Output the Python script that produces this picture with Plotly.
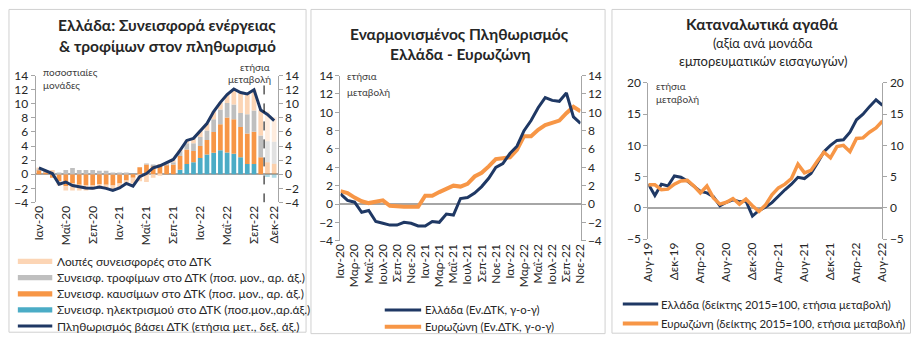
import plotly.graph_objects as go

W, H = 919, 344
def px(x): return x / W
def py(y): return 1 - y / H

# ---------------- Panel 1 data (Jan-20 .. Dec-22) ----------------
months_p1 = ["Ιαν-20","Φεβ-20","Μαρ-20","Απρ-20","Μαΐ-20","Ιουν-20","Ιουλ-20","Αυγ-20","Σεπ-20","Οκτ-20","Νοε-20","Δεκ-20",
             "Ιαν-21","Φεβ-21","Μαρ-21","Απρ-21","Μαΐ-21","Ιουν-21","Ιουλ-21","Αυγ-21","Σεπ-21","Οκτ-21","Νοε-21","Δεκ-21",
             "Ιαν-22","Φεβ-22","Μαρ-22","Απρ-22","Μαΐ-22","Ιουν-22","Ιουλ-22","Αυγ-22","Σεπ-22","Οκτ-22","Νοε-22","Δεκ-22"]
p1_tick_labels = ["Ιαν-20","Μαΐ-20","Σεπ-20","Ιαν-21","Μαΐ-21","Σεπ-21","Ιαν-22","Μαΐ-22","Σεπ-22","Δεκ-22"]
electricity = [0,0,0,0,0,0,0,0,0,0,0,0,
               0,0,0,0,0,0,0,0,0,0.65,1.45,1.7,
               2.3,2.8,3.05,3.4,3.1,2.9,2.4,1.45,1.45,0.0,-0.4,-0.5]
fuels = [0.6,0.3,-0.5,-1.0,-1.7,-1.3,-1.5,-1.6,-1.6,-1.4,-1.5,-1.6,
         -1.3,-0.9,-0.5,1.0,1.4,1.2,1.4,1.3,1.4,1.95,2.05,1.6,
         1.7,2.05,2.95,3.7,4.95,4.9,4.3,4.35,4.6,2.4,1.7,1.5]
food = [0.1,0.1,0.1,0.2,0.6,0.9,0.6,0.6,0.6,0.5,0.5,0.2,
        0.2,0.1,0.0,0.0,0.1,0.1,0.0,0.1,0.3,0.65,0.9,1.1,
        1.3,1.35,1.8,2.1,2.05,2.1,2.0,2.7,3.0,3.1,3.0,3.1]
other = [0.2,0.05,0.5,-0.6,-0.6,-1.0,-0.8,-0.7,-0.6,-0.7,-0.6,-0.6,
         -0.5,-0.4,-0.8,-1.0,-1.1,-0.5,-0.2,0.2,0.3,0.15,0.4,0.7,
         0.9,1.0,1.1,1.0,1.2,2.2,2.9,2.9,2.95,3.6,4.2,3.5]
cpi = [0.9,0.45,0.1,-1.4,-1.1,-1.6,-1.8,-1.95,-2.0,-1.8,-2.0,-2.3,
       -1.95,-1.3,-1.7,-0.35,0.1,0.9,1.2,1.7,2.1,3.4,4.8,5.1,
       6.2,7.2,8.9,10.2,11.3,12.1,11.6,11.4,12.0,9.1,8.5,7.6]
p1_projection_start = 34   # months after the dashed divider are shown lighter

# ---------------- Panel 2 data (Jan-20 .. Nov-22) ----------------
p2_tick_labels = ["Ιαν-20","Μαρ-20","Μαΐ-20","Ιουλ-20","Σεπ-20","Νοε-20","Ιαν-21","Μαρ-21","Μαΐ-21",
                  "Ιουλ-21","Σεπ-21","Νοε-21","Ιαν-22","Μαρ-22","Μαΐ-22","Ιουλ-22","Σεπ-22","Νοε-22"]
hicp_gr = [1.1,0.4,0.2,-0.9,-0.7,-1.9,-2.1,-2.3,-2.3,-2.0,-2.1,-2.4,
           -2.4,-1.9,-2.0,-1.1,-1.2,0.6,0.7,1.2,1.9,2.8,4.0,4.4,
           5.5,6.3,8.0,9.1,10.5,11.6,11.3,11.2,12.1,9.5,8.8]
hicp_ez = [1.4,1.2,0.7,0.3,0.1,0.3,0.4,-0.2,-0.3,-0.3,-0.3,-0.3,
           0.9,0.9,1.3,1.6,2.0,1.9,2.2,3.0,3.4,4.1,4.9,5.0,
           5.1,5.9,7.4,7.4,8.1,8.6,8.9,9.1,9.9,10.6,10.1]

# ---------------- Panel 3 data (Aug-19 .. Aug-22) ----------------
p3_tick_labels = ["Αυγ-19","Δεκ-19","Απρ-20","Αυγ-20","Δεκ-20","Απρ-21","Αυγ-21","Δεκ-21","Απρ-22","Αυγ-22"]
cons_gr = [3.8,2.0,3.8,3.5,5.1,4.9,4.3,3.5,2.65,2.4,1.8,0.35,
           0.9,1.3,1.0,1.1,-1.3,-0.4,0.1,0.85,1.9,2.9,3.8,4.9,
           4.7,5.5,7.2,9.0,10.0,10.8,10.9,12.1,14.1,15.0,16.2,17.3,16.4]
cons_ez = [3.7,3.7,2.9,3.0,3.8,4.3,4.4,3.5,2.4,3.5,1.6,0.6,
           0.9,1.5,0.6,1.4,0.35,-0.55,0.45,2.1,3.2,3.8,4.7,7.0,
           5.6,6.0,7.5,8.9,8.0,9.8,10.0,9.0,11.1,11.2,12.1,12.8,13.9]

NAVY = "#1f3864"
ORANGE = "#f79646"
GREY = "#bfbfbf"
PEACH = "#fcd5b5"
BLUE = "#4bacc6"
AXC = "#a6a6a6"
TXT = "#262626"
FONT = "Lato"

fig = go.Figure()

x1 = list(range(len(months_p1)))
op = [1.0 if i < p1_projection_start else 0.45 for i in x1]
for name, vals, col in [("Συνεισφ. ηλεκτρισμού στο ΔΤΚ (ποσ.μον.,αρ.άξ.)", electricity, BLUE),
                        ("Συνεισφ. καυσίμων στο ΔΤΚ (ποσ. μον., αρ. άξ.)", fuels, ORANGE),
                        ("Συνεισφ. τροφίμων στο ΔΤΚ (ποσ. μον., αρ. άξ.)", food, GREY),
                        ("Λοιπές συνεισφορές στο ΔΤΚ", other, PEACH)]:
    fig.add_trace(go.Bar(x=x1, y=vals, name=name, marker=dict(color=col, opacity=op, line_width=0),
                         xaxis="x", yaxis="y", showlegend=False))
fig.add_trace(go.Scatter(x=x1, y=cpi, mode="lines", line=dict(color=NAVY, width=3),
                         name="Πληθωρισμός βάσει ΔΤΚ (ετήσια μετ., δεξ. άξ.)", xaxis="x", yaxis="y2", showlegend=False))

x2 = list(range(len(hicp_gr)))
fig.add_trace(go.Scatter(x=x2, y=hicp_ez, mode="lines", line=dict(color=ORANGE, width=4),
                         name="Ευρωζώνη (Εν.ΔΤΚ, γ-ο-γ)", xaxis="x2", yaxis="y3", showlegend=False))
fig.add_trace(go.Scatter(x=x2, y=hicp_gr, mode="lines", line=dict(color=NAVY, width=3),
                         name="Ελλάδα (Εν.ΔΤΚ, γ-ο-γ)", xaxis="x2", yaxis="y4", showlegend=False))

x3 = list(range(len(cons_gr)))
fig.add_trace(go.Scatter(x=x3, y=cons_gr, mode="lines", line=dict(color=NAVY, width=3),
                         name="Ελλάδα (δείκτης 2015=100, ετήσια μεταβολή)", xaxis="x3", yaxis="y5", showlegend=False))
fig.add_trace(go.Scatter(x=x3, y=cons_ez, mode="lines", line=dict(color=ORANGE, width=3.5),
                         name="Ευρωζώνη (δείκτης 2015=100, ετήσια μεταβολή)", xaxis="x3", yaxis="y6", showlegend=False))

tickfont = dict(family=FONT, size=12, color=TXT)

def yax(dom, rng, dtick, side="left", overlay=None, anchor=None, zero=True):
    d = dict(domain=dom, range=rng, dtick=dtick, tick0=rng[0], showgrid=False, showline=True, linecolor=AXC,
             linewidth=1, ticks="outside", ticklen=4, tickcolor=AXC, tickfont=tickfont,
             zeroline=zero, zerolinecolor=AXC, zerolinewidth=1.5, side=side, fixedrange=True)
    if overlay:
        d["overlaying"] = overlay
    if anchor:
        d["anchor"] = anchor
    return d

def xax(dom, rng, tv, tt, anchor):
    return dict(domain=dom, range=rng, tickvals=tv, ticktext=tt, tickangle=-90, showgrid=False,
                showline=False, zeroline=False, ticks="", tickfont=tickfont, anchor=anchor, fixedrange=True)

p1_tv = [months_p1.index(t) for t in p1_tick_labels]
p2_tv = list(range(0, len(hicp_gr), 2))
p3_tv = list(range(0, len(cons_gr), 4))

fig.update_layout(
    width=W, height=H, margin=dict(l=0, r=0, t=0, b=0),
    paper_bgcolor="white", plot_bgcolor="rgba(0,0,0,0)",
    barmode="relative", bargap=0.3, showlegend=False,
    font=dict(family=FONT, color=TXT),
    xaxis=xax([px(28), px(274)], [-0.5, 35.5], p1_tv, p1_tick_labels, "y"),
    yaxis=yax([py(203.3), py(70.7)], [-4, 14], 2, anchor="x"),
    yaxis2=yax([py(203.3), py(70.7)], [-4, 14], 2, side="right", overlay="y", anchor="x", zero=False),
    xaxis2=xax([px(338), px(582)], [0, 34], p2_tv, p2_tick_labels, "y3"),
    yaxis3=yax([py(243.3), py(70.7)], [-4, 14], 2, anchor="x2"),
    yaxis4=yax([py(243.3), py(70.7)], [-4, 14], 2, side="right", overlay="y3", anchor="x2", zero=False),
    xaxis3=xax([px(651), px(889)], [0, 36], p3_tv, p3_tick_labels, "y5"),
    yaxis5=yax([py(241.7), py(78.3)], [-5, 20], 5, anchor="x3"),
    yaxis6=yax([py(241.7), py(78.3)], [-5, 20], 5, side="right", overlay="y5", anchor="x3", zero=False),
)

shapes = []
# panel frames
for x0, x1_, y1_ in [(1, 303, 339), (308, 607, 340.5), (614, 917.5, 340)]:
    shapes.append(dict(type="rect", xref="paper", yref="paper", x0=px(x0), x1=px(x1_), y0=py(y1_), y1=py(1.5),
                       line=dict(color="#d0d0d0", width=1), fillcolor="rgba(0,0,0,0)", layer="below"))
# projection divider in panel 1
shapes.append(dict(type="line", xref="x", yref="y", x0=p1_projection_start - 0.5, x1=p1_projection_start - 0.5,
                   y0=-4, y1=12.7, line=dict(color="black", width=1, dash="dash")))

annotations = []
def txt(x, y, s, size, bold=False, xanchor="center", color=TXT):
    annotations.append(dict(xref="paper", yref="paper", x=px(x), y=py(y), text=("<b>%s</b>" % s) if bold else s,
                            showarrow=False, xanchor=xanchor, yanchor="middle", borderpad=0,
                            font=dict(family=FONT, size=size, color=color)))

# titles
txt(162, 18, "Ελλάδα: Συνεισφορά ενέργειας", 15.5, True)
txt(162, 40, "&amp; τροφίμων στον πληθωρισμό", 15.5, True)
txt(459, 27, "Εναρμονισμένος Πληθωρισμός", 15.5, True)
txt(459, 48, "Ελλάδα - Ευρωζώνη", 15.5, True)
txt(767, 17, "Καταναλωτικά αγαθά", 15.5, True)
txt(768, 37, "(αξία ανά μονάδα", 13)
txt(768, 55, "εμπορευματικών εισαγωγών)", 13)

# axis notes
txt(35, 66.5, "ποσοστιαίες", 10, xanchor="left", color="#404040")
txt(35, 80, "μονάδες", 10, xanchor="left", color="#404040")
txt(267, 61.5, "ετήσια", 10, xanchor="right", color="#404040")
txt(268, 74.5, "μεταβολή", 10, xanchor="right", color="#404040")
txt(344, 71.5, "ετήσια", 10, xanchor="left", color="#404040")
txt(344, 88, "μεταβολή", 10, xanchor="left", color="#404040")
txt(658, 81.5, "ετήσια", 10, xanchor="left", color="#404040")
txt(658, 95, "μεταβολή", 10, xanchor="left", color="#404040")

# legends (manual, to match the compact row spacing)
def leg_rect(x0, x1_, yc, col, h=5.5):
    shapes.append(dict(type="rect", xref="paper", yref="paper", x0=px(x0), x1=px(x1_),
                       y0=py(yc + h / 2), y1=py(yc - h / 2), line=dict(width=0), fillcolor=col))
def leg_line(x0, x1_, yc, col, w):
    shapes.append(dict(type="line", xref="paper", yref="paper", x0=px(x0), x1=px(x1_),
                       y0=py(yc), y1=py(yc), line=dict(color=col, width=w)))

leg1 = [("Λοιπές συνεισφορές στο ΔΤΚ", PEACH, "rect"),
        ("Συνεισφ. τροφίμων στο ΔΤΚ (ποσ. μον., αρ. άξ.)", GREY, "rect"),
        ("Συνεισφ. καυσίμων στο ΔΤΚ (ποσ. μον., αρ. άξ.)", ORANGE, "rect"),
        ("Συνεισφ. ηλεκτρισμού στο ΔΤΚ (ποσ.μον.,αρ.άξ.)", BLUE, "rect"),
        ("Πληθωρισμός βάσει ΔΤΚ (ετήσια μετ., δεξ. άξ.)", NAVY, "line")]
for k, (s, col, kind) in enumerate(leg1):
    yc = 265 + k * 16.9
    if kind == "rect":
        leg_rect(10, 45, yc, col)
    else:
        leg_line(10, 45, yc, col, 3)
    txt(49, yc, s, 11.9, xanchor="left")

for k, (s, col, w) in enumerate([("Ελλάδα (Εν.ΔΤΚ, γ-ο-γ)", NAVY, 3), ("Ευρωζώνη (Εν.ΔΤΚ, γ-ο-γ)", ORANGE, 4)]):
    yc = 315.7 + k * 17.6
    leg_line(383, 420, yc, col, w)
    txt(423, yc, s, 11.3, xanchor="left")

for k, (s, col, w) in enumerate([("Ελλάδα (δείκτης 2015=100, ετήσια μεταβολή)", NAVY, 3),
                                  ("Ευρωζώνη (δείκτης 2015=100, ετήσια μεταβολή)", ORANGE, 4)]):
    yc = 309.5 + k * 20.5
    leg_line(625, 661, yc, col, w)
    txt(663, yc, s, 11.3, xanchor="left")

fig.update_layout(shapes=shapes, annotations=annotations)
fig.write_html("out.html")
